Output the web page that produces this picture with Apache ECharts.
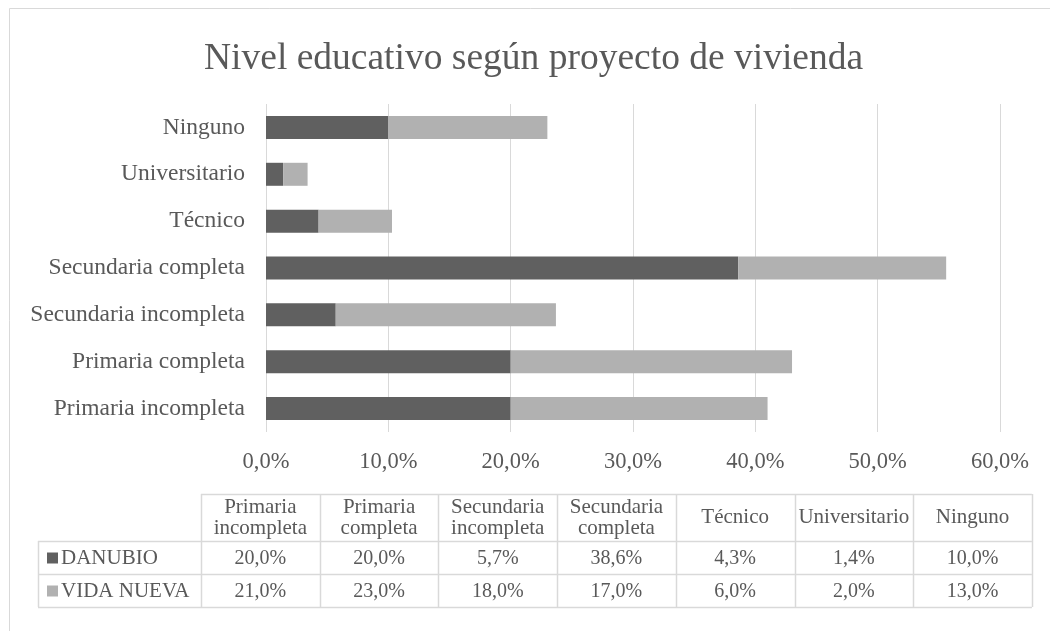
<!DOCTYPE html>
<html>
<head>
<meta charset="utf-8">
<script src="https://cdn.jsdelivr.net/npm/echarts@6/dist/echarts.min.js"></script>
<style>
  html, body { margin: 0; padding: 0; background: #fff; }
  #chart { width: 1050px; height: 631px; }
</style>
</head>
<body>
<div id="chart"></div>
<script>
// categorías (de abajo hacia arriba en el eje)
const categories = ['Primaria incompleta', 'Primaria completa', 'Secundaria incompleta',
  'Secundaria completa', 'Técnico', 'Universitario', 'Ninguno']
// encabezados de la tabla (dos líneas)
const tableHeaders = ['Primaria\nincompleta', 'Primaria\ncompleta', 'Secundaria\nincompleta',
  'Secundaria\ncompleta', 'Técnico', 'Universitario', 'Ninguno']
const seriesNames = ['DANUBIO', 'VIDA NUEVA']
const danubio = [20.0, 20.0, 5.7, 38.6, 4.3, 1.4, 10.0]
const vidaNueva = [21.0, 23.0, 18.0, 17.0, 6.0, 2.0, 13.0]
const xTicks = [0, 10, 20, 30, 40, 50, 60]

const colors = ['#606060', '#b1b1b1']
const textColor = '#595959'
const lineColor = '#d9d9d9'
const font = "'Liberation Serif', 'Times New Roman', serif"

const fmt = v => v.toFixed(1).replace('.', ',') + '%'

// tabla de datos
const tableLeft = 38
const tableX0 = 201
const colW = 118.7
const rowY = [494, 541, 574, 607]
const tableRight = tableX0 + colW * categories.length

const graphics = []
// borde exterior
graphics.push({
  type: 'rect', silent: true,
  shape: { x: 9.5, y: 8.5, width: 1100, height: 700 },
  style: { fill: 'none', stroke: lineColor, lineWidth: 1 }
})
// líneas horizontales
rowY.forEach((y, i) => {
  graphics.push({
    type: 'line', silent: true,
    shape: { x1: i === 0 ? tableX0 : tableLeft, y1: y + 0.5, x2: tableRight, y2: y + 0.5 },
    style: { stroke: lineColor, lineWidth: 1.5 }
  })
})
// líneas verticales
graphics.push({
  type: 'line', silent: true,
  shape: { x1: tableLeft + 0.5, y1: rowY[1], x2: tableLeft + 0.5, y2: rowY[3] },
  style: { stroke: lineColor, lineWidth: 1.5 }
})
for (let i = 0; i <= categories.length; i++) {
  const x = Math.round(tableX0 + colW * i) + 0.5
  graphics.push({
    type: 'line', silent: true,
    shape: { x1: x, y1: rowY[0], x2: x, y2: rowY[3] },
    style: { stroke: lineColor, lineWidth: 1.5 }
  })
}
// encabezados y valores
const rows = [danubio, vidaNueva]
tableHeaders.forEach((h, i) => {
  const cx = tableX0 + colW * (i + 0.5)
  graphics.push({
    type: 'text', silent: true, x: cx, y: (rowY[0] + rowY[1]) / 2,
    style: {
      text: h, align: 'center', verticalAlign: 'middle',
      font: '21px ' + font, lineHeight: 21, fill: textColor
    }
  })
  rows.forEach((r, j) => {
    graphics.push({
      type: 'text', silent: true, x: cx, y: (rowY[j + 1] + rowY[j + 2]) / 2 + 1,
      style: {
        text: fmt(r[i]), align: 'center', verticalAlign: 'middle',
        font: '20px ' + font, fill: textColor
      }
    })
  })
})
// claves de leyenda en la tabla
seriesNames.forEach((name, j) => {
  const cy = (rowY[j + 1] + rowY[j + 2]) / 2
  graphics.push({
    type: 'rect', silent: true,
    shape: { x: 47, y: cy - 5, width: 11, height: 11 },
    style: { fill: colors[j] }
  })
  graphics.push({
    type: 'text', silent: true, x: 61, y: cy + 1,
    style: {
      text: name, align: 'left', verticalAlign: 'middle',
      font: '21px ' + font, fill: textColor
    }
  })
})

const chart = echarts.init(document.getElementById('chart'))
chart.setOption({
  animation: false,
  backgroundColor: '#fff',
  textStyle: { fontFamily: font },
  title: {
    text: 'Nivel educativo según proyecto de vivienda',
    left: 199,
    top: 35,
    textStyle: { color: textColor, fontSize: 37.5, fontWeight: 'normal', fontFamily: font }
  },
  grid: { left: 266, right: 50, top: 104, bottom: 199, containLabel: false },
  xAxis: {
    type: 'value',
    min: xTicks[0],
    max: xTicks[xTicks.length - 1],
    interval: 10,
    axisLine: { show: false },
    axisTick: { show: false },
    splitLine: { lineStyle: { color: lineColor, width: 1 } },
    axisLabel: { color: textColor, fontSize: 22.5, fontFamily: font, margin: 19, formatter: fmt }
  },
  yAxis: {
    type: 'category',
    data: categories,
    axisLine: { show: false },
    axisTick: { show: false },
    axisLabel: { color: textColor, fontSize: 23.5, fontFamily: font, margin: 21 }
  },
  series: [
    { name: seriesNames[0], type: 'bar', stack: 'total', barWidth: 23, data: danubio, itemStyle: { color: colors[0] } },
    { name: seriesNames[1], type: 'bar', stack: 'total', barWidth: 23, data: vidaNueva, itemStyle: { color: colors[1] } }
  ],
  graphic: graphics
})
</script>
</body>
</html>
